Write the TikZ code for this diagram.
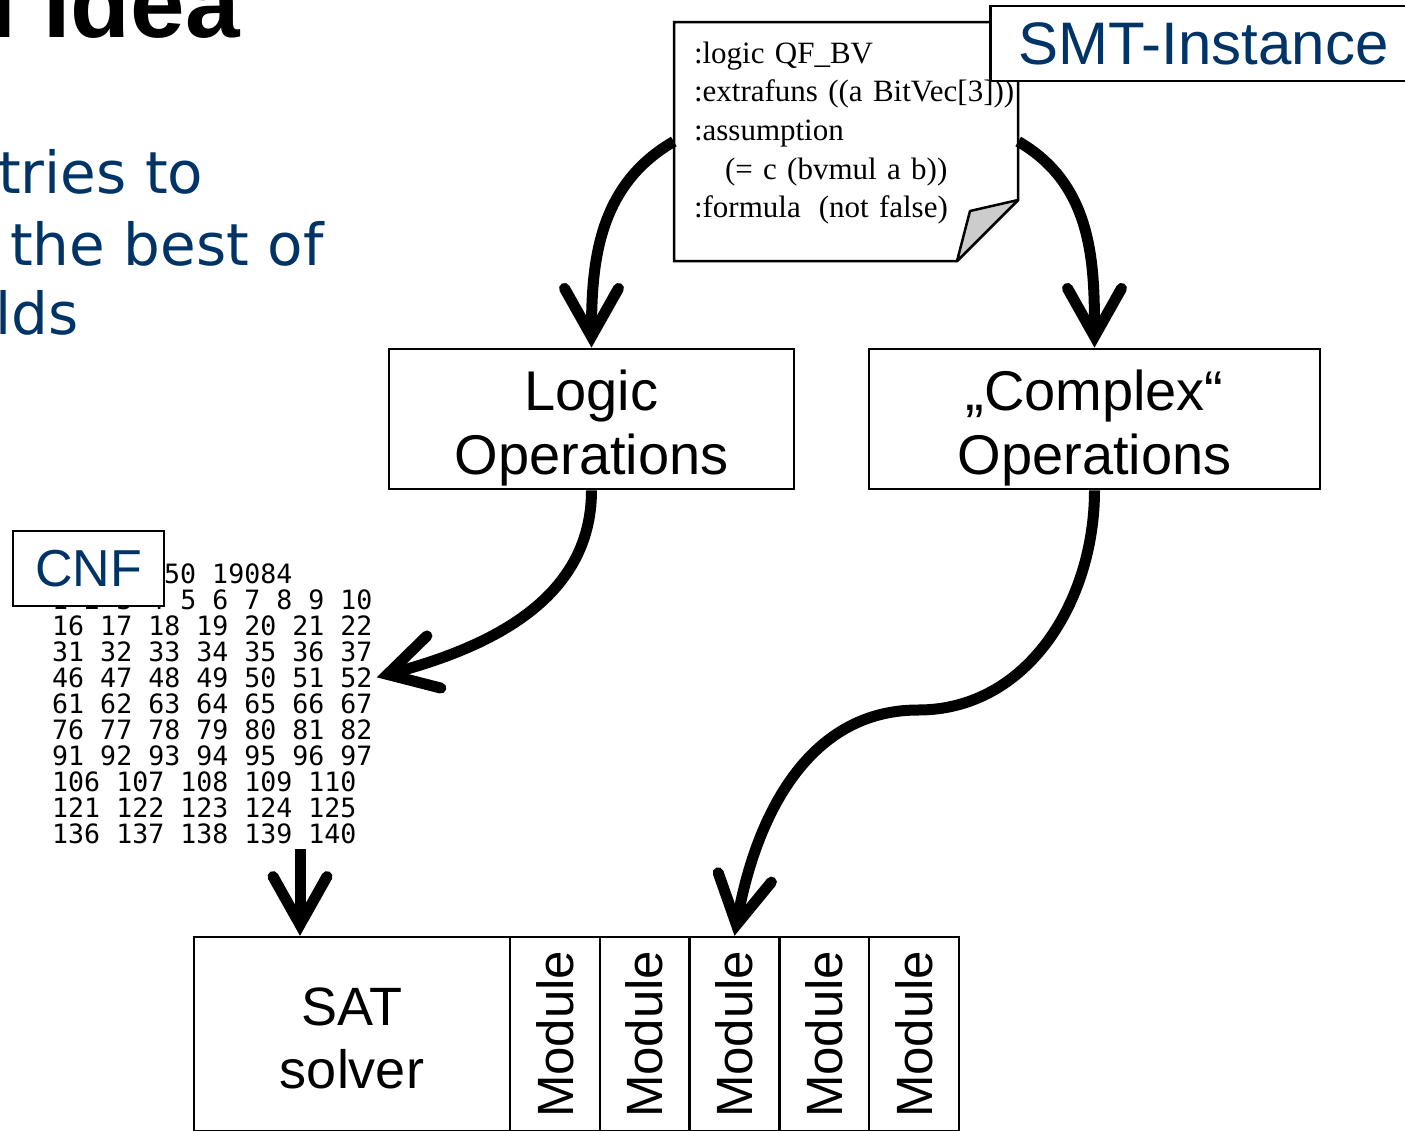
\documentclass[tikz,border=0pt]{standalone}
\usepackage{fontspec}
\setmainfont{Liberation Sans}
\newfontfamily\notefont{Liberation Serif}
\newfontfamily\slidefont{DejaVu Sans}
\newfontfamily\cnffont{DejaVu Sans Mono}
\usetikzlibrary{arrows.meta}

\begin{document}
\begin{tikzpicture}[x=1pt,y=-1pt,
  opbox/.style={draw,line width=2.5pt,fill=white,minimum height=136pt,text width=380pt,align=center,text height=58pt,font=\fontsize{56}{64}\selectfont},
  tagbox/.style={draw,line width=2.5pt,fill=white,minimum height=75pt,text=smtblue},
  modbox/.style={draw,line width=2.5pt,minimum width=89.8pt,minimum height=194.5pt,font=\fontsize{51}{60}\selectfont},
  cnfrow/.style={anchor=base west,inner sep=0pt,font=\cnffont\fontsize{26.6}{26}\selectfont},
  bodytext/.style={anchor=base west,inner sep=0pt,text=smtblue,font=\slidefont\fontsize{58}{71}\selectfont},
  flow/.style={line width=11pt,-{Straight Barb[length=48pt,width=54pt,line cap=round,line join=miter]}}]
\definecolor{smtblue}{HTML}{003366}
\useasboundingbox (0,0) rectangle (1405,1130);

\node[anchor=base east,inner sep=0pt,font=\bfseries\fontsize{98}{98}\selectfont] (title) at (240,37) {l Idea};
\foreach \txt/\xx/\yy [count=\k] in {tries to/-2/193,the best of/10/265,lds/-5/334}
  \node[bodytext] (line\k) at (\xx,\yy) {\txt};

% the instance sheet
\draw[line width=2.5pt,fill=white] (674,22) -- (1018,22) -- (1018,200) -- (957,261) -- (674,261) -- cycle;
\draw[line width=2.5pt,fill=black!20,line join=round] (957,261) -- (970,211) -- (1018,200) -- cycle;
\node[minimum width=344pt,minimum height=239pt,text width=304pt,inner xsep=20pt,align=left,text depth=178pt,
  font=\notefont\fontsize{31}{38.6}\selectfont] (note) at (846,141.5)
  {:logic QF\_BV\\\mbox{:extrafuns ((a BitVec[3]))}\\:assumption\\\hspace*{31pt}(= c (bvmul a b))\\:formula\hspace{18pt}(not false)};
\node[tagbox,anchor=west,inner xsep=28pt,font=\fontsize{60}{60}\selectfont] (smt) at (989,43.5) {SMT-Instance};

\node[opbox,minimum width=405pt] (logic) at (591.5,419) {Logic\\Operations};
\node[opbox,minimum width=451pt] (complex) at (1094.5,419) {„Complex“\\Operations};

\foreach \row/\col [count=\k] in {50 19084/7,1 2 3 4 5 6 7 8 9 10/0,16 17 18 19 20 21 22/0,31 32 33 34 35 36 37/0,46 47 48 49 50 51 52/0,61 62 63 64 65 66 67/0,76 77 78 79 80 81 82/0,91 92 93 94 95 96 97/0,106 107 108 109 110/0,121 122 123 124 125/0,136 137 138 139 140/0}
  \node[cnfrow] (row\k) at (52+16*\col,557+26*\k) {\row};
\node[tagbox,inner xsep=22pt,font=\fontsize{52}{52}\selectfont] (cnf) at (88.5,568.5) {CNF};

\node[draw,line width=2.5pt,minimum width=316pt,minimum height=194.5pt,text width=290pt,align=center,text height=45pt,
  font=\fontsize{54}{63}\selectfont] (sat) at (352,1034.25) {SAT\\solver};
\foreach \k in {1,...,5}
  \node[modbox] (mod\k) at (465.1+89.8*\k,1034.25) {\rotatebox{90}{Module}};

\coordinate (bend) at (918,710);
\coordinate (cnfout) at (300,849);
\draw[flow] (note.west) to[out=210,in=90] (logic.north);
\draw[flow] (note.east) to[out=-30,in=90] (complex.north);
\draw[flow] (logic.south) to[out=-90,in=15] ([xshift=4pt]row5.east);
\draw[flow] (complex.south) to[out=-90,in=0] (bend) to[out=180,in=80] (mod3.north);
\draw[flow] (cnfout) -- (cnfout |- sat.north);
\end{tikzpicture}
\end{document}
